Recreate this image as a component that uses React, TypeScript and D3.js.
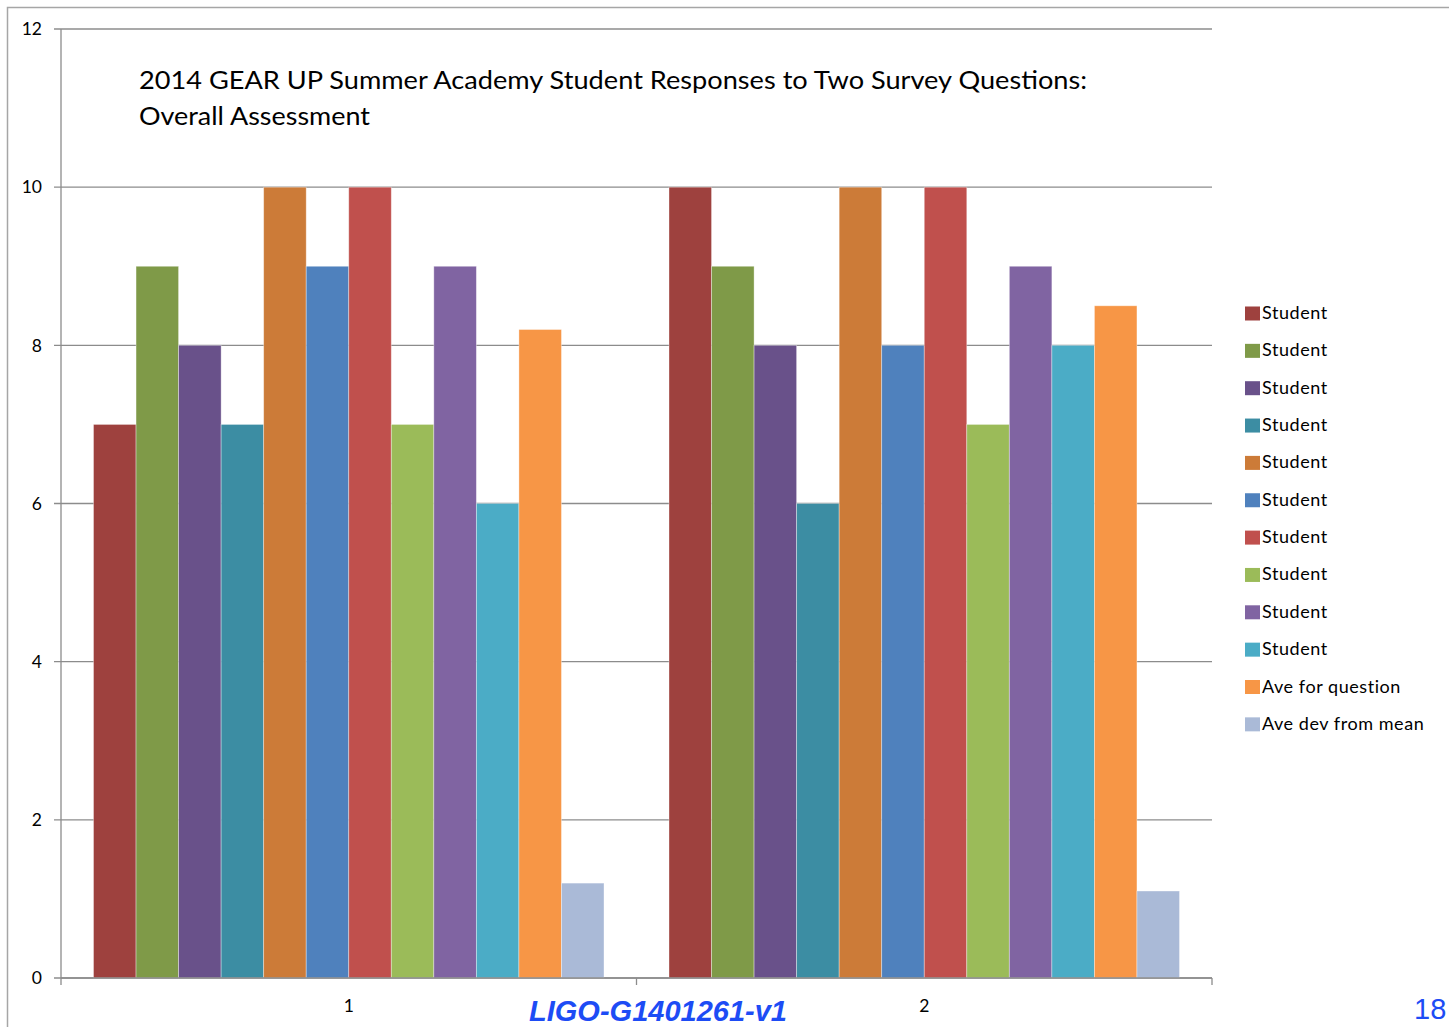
import React from "react";
import * as d3 from "d3";

const questions = ["1", "2"];
const seriesNames = [
  "Student", "Student", "Student", "Student", "Student", "Student",
  "Student", "Student", "Student", "Student", "Ave for question", "Ave dev from mean",
];
const q1Values = [7, 9, 8, 7, 10, 9, 10, 7, 9, 6, 8.2, 1.2];
const q2Values = [10, 9, 8, 6, 10, 8, 10, 7, 9, 8, 8.5, 1.1];
const seriesColors = [
  "#9E413E", "#7F9A48", "#69518A", "#3C8DA3", "#CC7B38", "#4F81BD",
  "#C0504D", "#9BBB59", "#8064A2", "#4BACC6", "#F79646", "#AABAD7",
];
const yTicks = [0, 2, 4, 6, 8, 10, 12];
const titleLines = [
  "2014 GEAR UP Summer Academy Student Responses to Two Survey Questions:",
  "Overall Assessment",
];

const W = 1449;
const H = 1027;
const left = 61;
const right = 1212;
const top = 29;
const bottom = 978;

export default function App() {
  const values = [q1Values, q2Values];
  const x0 = d3.scaleBand<string>().domain(questions).range([left, right]).padding(0);
  const bw = x0.bandwidth();
  const pad = 32.5;
  const x1 = d3
    .scaleBand<number>()
    .domain(seriesNames.map((_, i) => i))
    .range([pad, bw - pad])
    .padding(0);
  const y = d3.scaleLinear().domain([0, 12]).range([bottom, top]);
  const font = "Lato, 'Open Sans', sans-serif";
  const gridColor = "#8C8C8C";

  return (
    <svg width={W} height={H} style={{ position: "absolute", left: 0, top: 0, background: "#fff" }}>
      {/* outer frame */}
      <rect x={7.5} y={7.5} width={W + 20} height={H + 20} fill="none" stroke="#A6A6A6" strokeWidth={1.5} />
      {/* gridlines */}
      {yTicks.map((t) => (
        <g key={t}>
          <line x1={54} x2={right} y1={y(t)} y2={y(t)} stroke={gridColor} strokeWidth={1.3} />
          <text
            x={42}
            y={y(t)}
            dy="0.36em"
            textAnchor="end"
            fontFamily={font}
            fontSize={17.5}
            fill="#000"
          >
            {t}
          </text>
        </g>
      ))}
      {/* y axis */}
      <line x1={left} x2={left} y1={top} y2={bottom} stroke={gridColor} strokeWidth={1.3} />
      {/* bars */}
      {questions.map((q, qi) => (
        <g key={q} transform={`translate(${x0(q)},0)`}>
          {values[qi].map((v, si) => (
            <rect
              key={si}
              x={x1(si)}
              y={y(v)}
              width={x1.bandwidth()}
              height={y(0) - y(v)}
              fill={seriesColors[si]}
              stroke="#ffffff"
              strokeOpacity={0.45}
              strokeWidth={0.8}
            />
          ))}
        </g>
      ))}
      {/* x axis */}
      <line x1={left} x2={right} y1={bottom} y2={bottom} stroke={gridColor} strokeWidth={1.3} />
      {[left, left + bw, right].map((tx, i) => (
        <line key={i} x1={tx} x2={tx} y1={bottom} y2={bottom + 7} stroke={gridColor} strokeWidth={1.3} />
      ))}
      {questions.map((q) => (
        <text
          key={q}
          x={(x0(q) as number) + bw / 2}
          y={1012}
          textAnchor="middle"
          fontFamily={font}
          fontSize={17.5}
          fill="#000"
        >
          {q}
        </text>
      ))}
      {/* title */}
      {titleLines.map((line, i) => (
        <text
          key={i}
          x={139}
          y={89 + i * 36}
          fontFamily={font}
          fontSize={25}
          fill="#000"
          textLength={i === 0 ? 948 : 231}
          lengthAdjust="spacingAndGlyphs"
        >
          {line}
        </text>
      ))}
      {/* legend */}
      {seriesNames.map((name, i) => (
        <g key={i} transform={`translate(1245,${306.5 + i * 37.35})`}>
          <rect x={0} y={0} width={15} height={14} fill={seriesColors[i]} />
          <text x={17} y={12.5} fontFamily={font} fontSize={18} letterSpacing={0.55} fill="#000">
            {name}
          </text>
        </g>
      ))}
      {/* footer */}
      <text
        x={658}
        y={1021}
        textAnchor="middle"
        fontFamily="'Liberation Sans', Arial, sans-serif"
        fontWeight="bold"
        fontStyle="italic"
        fontSize={29}
        fill="#1D4CF5"
      >
        LIGO-G1401261-v1
      </text>
      <text x={1414} y={1019} fontFamily="'Liberation Sans', Arial, sans-serif" fontSize={29} fill="#1D4CF5">
        18
      </text>
    </svg>
  );
}
